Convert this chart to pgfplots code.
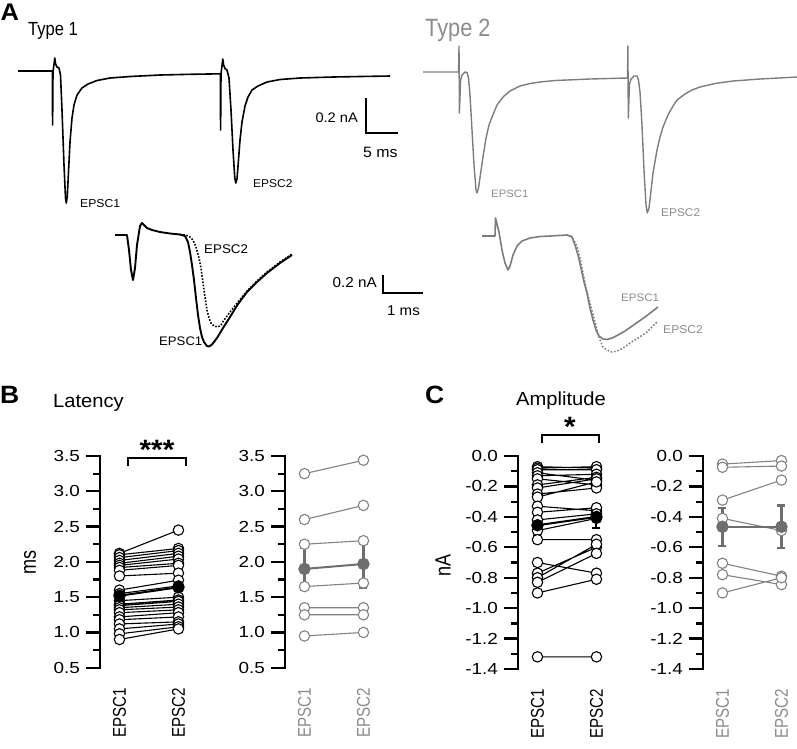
\documentclass[border=0pt]{standalone}
\usepackage{pgfplots}
\usepackage{pgfplotstable}
\pgfplotsset{compat=1.18}
\usepackage{fontspec}
\setmainfont{Liberation Sans}[FakeStretch=1.06]
\newfontfamily\tickfont{Liberation Sans}[FakeStretch=1.18]
\newfontfamily\narrowfont{Liberation Sans}[FakeStretch=0.87]
\newfontfamily\rotfont{Liberation Sans}[FakeStretch=0.82]
\newcommand\fs[1]{\fontsize{#1}{#1}\selectfont}
\definecolor{tgray}{RGB}{125,125,125}
\definecolor{mgray}{RGB}{130,130,130}
\definecolor{fgray}{RGB}{110,110,110}
\definecolor{lgray}{RGB}{140,140,140}

% Type 1 latency (EPSC1 -> EPSC2), ms
\pgfplotstableread{
x y
0 2.12
1 2.45
nan nan
0 2.10
1 2.19
nan nan
0 2.06
1 2.16
nan nan
0 2.02
1 2.12
nan nan
0 1.98
1 2.08
nan nan
0 1.95
1 2.04
nan nan
0 1.92
1 1.98
nan nan
0 1.88
1 1.95
nan nan
0 1.80
1 1.84
nan nan
0 1.60
1 1.74
nan nan
0 1.55
1 1.66
nan nan
0 1.45
1 1.50
nan nan
0 1.40
1 1.46
nan nan
0 1.38
1 1.44
nan nan
0 1.35
1 1.40
nan nan
0 1.32
1 1.36
nan nan
0 1.28
1 1.32
nan nan
0 1.22
1 1.28
nan nan
0 1.18
1 1.22
nan nan
0 1.12
1 1.15
nan nan
0 1.05
1 1.12
nan nan
0 0.98
1 1.08
nan nan
0 0.90
1 1.05
}\Bone

% Type 2 latency
\pgfplotstableread{
x y
0 3.25
1 3.44
nan nan
0 2.60
1 2.80
nan nan
0 2.25
1 2.30
nan nan
0 1.65
1 1.70
nan nan
0 1.35
1 1.35
nan nan
0 1.25
1 1.25
nan nan
0 0.95
1 1.00
}\Btwo

% Type 1 amplitude, nA
\pgfplotstableread{
x y
0 -0.07
1 -0.08
nan nan
0 -0.08
1 -0.07
nan nan
0 -0.09
1 -0.09
nan nan
0 -0.11
1 -0.16
nan nan
0 -0.13
1 -0.12
nan nan
0 -0.15
1 -0.19
nan nan
0 -0.19
1 -0.14
nan nan
0 -0.21
1 -0.15
nan nan
0 -0.25
1 -0.21
nan nan
0 -0.27
1 -0.17
nan nan
0 -0.33
1 -0.36
nan nan
0 -0.37
1 -0.34
nan nan
0 -0.42
1 -0.38
nan nan
0 -0.49
1 -0.41
nan nan
0 -0.55
1 -0.55
nan nan
0 -0.70
1 -0.77
nan nan
0 -0.77
1 -0.60
nan nan
0 -0.80
1 -0.58
nan nan
0 -0.83
1 -0.64
nan nan
0 -0.90
1 -0.81
nan nan
0 -1.32
1 -1.32
}\Cone

% Type 2 amplitude
\pgfplotstableread{
x y
0 -0.053
1 -0.030
nan nan
0 -0.074
1 -0.066
nan nan
0 -0.29
1 -0.158
nan nan
0 -0.41
1 -0.49
nan nan
0 -0.705
1 -0.79
nan nan
0 -0.78
1 -0.845
nan nan
0 -0.90
1 -0.80
}\Ctwo

\pgfplotsset{
  pairax/.style={
    scale only axis, clip=false, anchor=south west,
    width=99.1pt, xmin=-0.33, xmax=1.35,
    enlargelimits=false,
    axis x line=none, axis y line=left,
    axis line style={-, line width=2.7pt, black},
    xtick=\empty,
    tick align=outside,
    major tick length=14pt, minor tick length=7.5pt,
    tick style={line width=2.3pt, black},
    minor y tick num=1,
    yticklabel style={font=\tickfont\fs{16}, inner sep=0pt, xshift=-6pt},
  },
  openmk/.style={only marks, mark=*, mark size=5.2pt, unbounded coords=discard,
    mark options={fill=white, draw=#1, line width=1.1pt}},
  pairln/.style={#1, line width=1.1pt, unbounded coords=jump, no markers},
}
\tikzset{catlab/.style={yshift=-20pt, rotate=90, anchor=east, inner sep=0pt, font=\rotfont\fs{18.5}},
  axl/.style={line width=2.7pt, black, line cap=rect},
  tkl/.style={line width=2.3pt, black}}

\begin{document}
\begin{tikzpicture}
\path[use as bounding box] (0,0) rectangle (797pt,-748pt);

% ---------- Panel A traces (pixel frame) ----------
\begin{axis}[at={(0pt,0pt)}, anchor=north west, scale only axis,
  width=797pt, height=748pt, xmin=0, xmax=797, ymin=0, ymax=748,
  y dir=reverse, hide axis, clip=false]
% Type 1 pair
\addplot[black, line width=1.6pt, line join=round] coordinates {
(18,71) (52.3,71) (52.6,125) (53.0,72) (54.8,58) (55.6,64) (57,67) (59,68)
(60.5,75) (62,110) (64,165) (65.5,198) (66.3,203) (67.3,196) (68.5,172)
(70,142) (72,118) (74,105) (77,95) (82,88) (88,84) (97,80.5) (110,78)
(130,76.5) (160,75) (190,74.3) (220.3,73.8) (220.6,130) (221.0,74)
(222.8,59) (223.6,65) (225,68.5) (227,70) (229,78) (231,110) (233,150)
(234.8,178) (235.8,183) (237,179) (238.5,160) (240,140) (242,122)
(245,106) (248,97) (252,90) (258,86) (267,82) (280,79.5) (300,78)
(333,77) (360,76.5) (390,76)};
% Type 2 pair
\addplot[tgray, line width=1.4pt, line join=round] coordinates {
(423,72) (458.6,72) (459,46) (459.4,113) (460.6,80) (462,75) (465,72)
(467,72.5) (468.5,78) (470,95) (472,130) (474,165) (476,190) (477,193)
(478.5,188) (480.5,174) (483,157) (486,138) (489,125) (492,117) (497,105)
(503,97) (510,91) (520,86) (530,83.5) (540,82) (555,80.5) (567,80)
(590,79) (627.5,78) (627.9,46) (628.3,118) (629.5,84) (631,79) (634,76)
(637,76) (638.5,80) (640,92) (642,125) (644,170) (646,205) (647.3,213)
(649,208) (651,191) (653,173) (657,150) (660,137) (663,127) (668,115)
(673,106) (677,100) (685,94) (692,90) (700,87) (715,83.5) (733,81)
(760,79) (797,77)};
% Type 1 zoomed: EPSC2 dashed
\addplot[black, line width=1.6pt, dash pattern=on 1.6pt off 1.6pt] coordinates {
(180,234.5) (185,235) (189,236) (193,240) (196,247) (199,258) (201,268)
(203,283) (205,297) (207,310) (209,318) (211,323) (214,326) (218,327)
(221,325) (224,320) (230,312) (238,302) (247,291) (257,281) (267,272)
(280,262) (292,254)};
% Type 1 zoomed: EPSC1 solid
\addplot[black, line width=1.9pt, line join=round] coordinates {
(115,235) (127,235) (129,250) (131,270) (133,280) (135,268) (137,245)
(140,226) (142,223) (144,225) (147,228) (152,230) (160,232) (170,233.5)
(180,234.5) (185,236) (188,242) (190,252) (192,265) (194,280) (196,298)
(198,315) (200,328) (202,337) (204,342) (207,346) (209,346.5) (212,344.5)
(217,338) (223,328) (230,317) (238,304) (247,292) (257,282) (267,273)
(280,263) (292,255)};
% Type 2 zoomed: EPSC2 dashed
\addplot[tgray, line width=1.5pt, dash pattern=on 1.6pt off 1.8pt] coordinates {
(567,235) (571,236) (574,240) (577,247) (580,258) (583,273) (586,288)
(590,303) (594,318) (597,330) (600,340) (603,347) (607,350) (612,352)
(617,351) (623,348) (630,343) (638,338) (647,332) (657,322)};
% Type 2 zoomed: EPSC1 solid
\addplot[tgray, line width=1.6pt, line join=round] coordinates {
(482,236) (495,236) (495.5,218) (496.5,222) (499,232) (502,250) (505,263)
(508,270) (510,266) (513,255) (517,246) (522,241) (530,238) (540,236.5)
(550,236) (567,235) (572,237) (575,245) (578,255) (581,268) (584,282)
(587,293) (590,308) (593,320) (596,330) (599,336) (603,339) (607,339.5)
(612,338) (618,335) (625,331) (635,324) (645,317) (658,307)};
% scale bars
\addplot[black, line width=2pt] coordinates {(366,98) (366,133) (398,133)};
\addplot[black, line width=2pt] coordinates {(383,275) (383,293) (423,293)};
% significance brackets
\addplot[black, line width=2pt] coordinates {(128,466) (128,458) (186,458) (186,466)};
\addplot[black, line width=2pt] coordinates {(542,443) (542,435) (599,435) (599,443)};
\end{axis}

% ---------- Panel B: latency ----------
\begin{axis}[pairax, at={(100pt,-667.7pt)}, height=211.7pt,
  ymin=0.5, ymax=3.5, ytick={0.5,1.0,1.5,2.0,2.5,3.0,3.5},
  yticklabels={0.5,1.0,1.5,2.0,2.5,3.0,3.5}]
\draw[axl] (axis cs:-0.33,0.5) -- (axis cs:-0.33,3.5);
\pgfplotsinvokeforeach{0.5,1.0,1.5,2.0,2.5,3.0,3.5}{\draw[tkl] (axis cs:-0.33,#1) -- ++(-14pt,0pt);}
\pgfplotsinvokeforeach{0.75,1.25,1.75,2.25,2.75,3.25}{\draw[tkl] (axis cs:-0.33,#1) -- ++(-7.5pt,0pt);}
\addplot[pairln=black] table {\Bone};
\addplot[openmk=black] table {\Bone};
\addplot[black, line width=2pt, mark=*, mark size=5.2pt,
  mark options={fill=black, draw=black},
  error bars/.cd, y dir=both, y explicit,
  error bar style={line width=2pt, black},
  error mark options={rotate=90, mark size=4pt, line width=2pt, black}]
  coordinates {(0,1.52) +- (0,0.08) (1,1.64) +- (0,0.09)};
\node[catlab] at (axis cs:0,0.5) {EPSC1};
\node[catlab] at (axis cs:1,0.5) {EPSC2};
\end{axis}

\begin{axis}[pairax, at={(285pt,-667.7pt)}, height=211.7pt,
  ymin=0.5, ymax=3.5, ytick={0.5,1.0,1.5,2.0,2.5,3.0,3.5},
  yticklabels={0.5,1.0,1.5,2.0,2.5,3.0,3.5}]
\draw[axl] (axis cs:-0.33,0.5) -- (axis cs:-0.33,3.5);
\pgfplotsinvokeforeach{0.5,1.0,1.5,2.0,2.5,3.0,3.5}{\draw[tkl] (axis cs:-0.33,#1) -- ++(-14pt,0pt);}
\pgfplotsinvokeforeach{0.75,1.25,1.75,2.25,2.75,3.25}{\draw[tkl] (axis cs:-0.33,#1) -- ++(-7.5pt,0pt);}
\addplot[pairln=mgray] table {\Btwo};
\addplot[openmk=mgray] table {\Btwo};
\addplot[fgray, line width=2pt, mark=*, mark size=5.2pt,
  mark options={fill=fgray, draw=fgray},
  error bars/.cd, y dir=both, y explicit,
  error bar style={line width=2.2pt, fgray},
  error mark options={rotate=90, mark size=4pt, line width=2.2pt, fgray}]
  coordinates {(0,1.90) +- (0,0.30) (1,1.97) +- (0,0.34)};
\node[catlab, text=lgray] at (axis cs:0,0.5) {EPSC1};
\node[catlab, text=lgray] at (axis cs:1,0.5) {EPSC2};
\end{axis}

% ---------- Panel C: amplitude ----------
\begin{axis}[pairax, at={(518pt,-669pt)}, height=213pt,
  ymin=-1.4, ymax=0, ytick={-1.4,-1.2,-1.0,-0.8,-0.6,-0.4,-0.2,0},
  yticklabels={-1.4,-1.2,-1.0,-0.8,-0.6,-0.4,-0.2,0.0}]
\draw[axl] (axis cs:-0.33,-1.4) -- (axis cs:-0.33,0);
\pgfplotsinvokeforeach{-1.4,-1.2,-1.0,-0.8,-0.6,-0.4,-0.2,0}{\draw[tkl] (axis cs:-0.33,#1) -- ++(-14pt,0pt);}
\pgfplotsinvokeforeach{-1.3,-1.1,-0.9,-0.7,-0.5,-0.3,-0.1}{\draw[tkl] (axis cs:-0.33,#1) -- ++(-7.5pt,0pt);}
\addplot[pairln=black] table {\Cone};
\addplot[openmk=black] table {\Cone};
\addplot[black, line width=2pt, mark=*, mark size=5.2pt,
  mark options={fill=black, draw=black},
  error bars/.cd, y dir=both, y explicit,
  error bar style={line width=2pt, black},
  error mark options={rotate=90, mark size=4pt, line width=2pt, black}]
  coordinates {(0,-0.455) +- (0,0.07) (1,-0.40) +- (0,0.075)};
\node[catlab] at (axis cs:0,-1.4) {EPSC1};
\node[catlab] at (axis cs:1,-1.4) {EPSC2};
\end{axis}

\begin{axis}[pairax, at={(703pt,-669pt)}, height=213pt,
  ymin=-1.4, ymax=0, ytick={-1.4,-1.2,-1.0,-0.8,-0.6,-0.4,-0.2,0},
  yticklabels={-1.4,-1.2,-1.0,-0.8,-0.6,-0.4,-0.2,0.0}]
\draw[axl] (axis cs:-0.33,-1.4) -- (axis cs:-0.33,0);
\pgfplotsinvokeforeach{-1.4,-1.2,-1.0,-0.8,-0.6,-0.4,-0.2,0}{\draw[tkl] (axis cs:-0.33,#1) -- ++(-14pt,0pt);}
\pgfplotsinvokeforeach{-1.3,-1.1,-0.9,-0.7,-0.5,-0.3,-0.1}{\draw[tkl] (axis cs:-0.33,#1) -- ++(-7.5pt,0pt);}
\addplot[pairln=mgray] table {\Ctwo};
\addplot[openmk=mgray] table {\Ctwo};
\addplot[fgray, line width=2pt, mark=*, mark size=5.2pt,
  mark options={fill=fgray, draw=fgray},
  error bars/.cd, y dir=both, y explicit,
  error bar style={line width=2.2pt, fgray},
  error mark options={rotate=90, mark size=4pt, line width=2.2pt, fgray}]
  coordinates {(0,-0.465) +- (0,0.125) (1,-0.465) +- (0,0.14)};
\node[catlab, text=lgray] at (axis cs:0,-1.4) {EPSC1};
\node[catlab, text=lgray] at (axis cs:1,-1.4) {EPSC2};
\end{axis}

% ---------- Text ----------
\begin{scope}[every node/.style={inner sep=0pt}]
\node[anchor=base west, font=\bfseries\fs{24}] at (0.5pt,-20pt) {A};
\node[anchor=base west, font=\narrowfont\fs{19}] at (28pt,-35pt) {Type 1};
\node[anchor=base west, font=\narrowfont\fs{25}, text=lgray] at (425pt,-36pt) {Type 2};
\node[anchor=base west, font=\fs{11.5}] at (80pt,-207pt) {EPSC1};
\node[anchor=base west, font=\fs{11.3}] at (253pt,-187pt) {EPSC2};
\node[anchor=base east, font=\fs{13.8}] at (358pt,-122pt) {0.2 nA};
\node[anchor=base west, font=\fs{15}] at (363pt,-157pt) {5 ms};
\node[anchor=base west, font=\fs{10.7}, text=lgray] at (491pt,-197pt) {EPSC1};
\node[anchor=base west, font=\fs{11.2}, text=lgray] at (661pt,-216pt) {EPSC2};
\node[anchor=base west, font=\fs{12.6}] at (204pt,-253pt) {EPSC2};
\node[anchor=base west, font=\fs{12.4}] at (159pt,-345pt) {EPSC1};
\node[anchor=base east, font=\fs{14.4}] at (377pt,-287pt) {0.2 nA};
\node[anchor=base west, font=\fs{14.2}] at (387pt,-315pt) {1 ms};
\node[anchor=base west, font=\fs{10.9}, text=lgray] at (621pt,-301pt) {EPSC1};
\node[anchor=base west, font=\fs{11.4}, text=lgray] at (663pt,-333pt) {EPSC2};
\node[anchor=base west, font=\bfseries\fs{25}] at (0pt,-403pt) {B};
\node[anchor=base west, font=\fs{19}] at (53pt,-407pt) {Latency};
\node[anchor=north, font=\bfseries\fs{28}] at (157pt,-440pt) {***};
\node[anchor=base west, font=\bfseries\fs{25}] at (425pt,-403pt) {C};
\node[anchor=base west, font=\fs{19}] at (516pt,-405pt) {Amplitude};
\node[anchor=north, font=\bfseries\fs{28}] at (570pt,-417pt) {*};
\node[rotate=90, font=\rotfont\fs{22}] at (30pt,-562pt) {ms};
\node[rotate=90, font=\rotfont\fs{22}] at (443pt,-565pt) {nA};
\end{scope}
\end{tikzpicture}
\end{document}
